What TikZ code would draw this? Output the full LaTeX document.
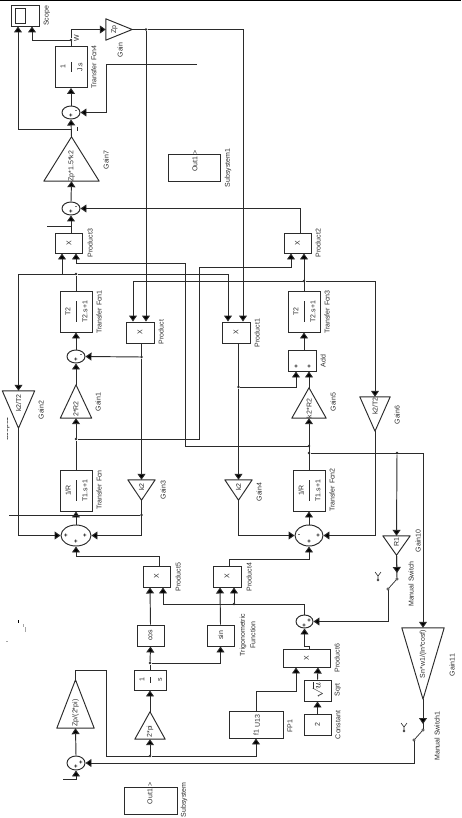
\documentclass[tikz,border=0pt]{standalone}
\usepackage{fontspec}
\usepackage{graphicx}
\setmainfont{Liberation Sans}
\usetikzlibrary{arrows.meta,shapes.geometric}
\definecolor{ink}{HTML}{2B2B2B}
\tikzset{
  blk/.style={draw=ink,line width=0.95pt},
  tribox/.style={inner sep=0pt},
  sumn/.style={blk,ellipse,inner sep=0pt},
  lab/.style={rotate=90,font=\fontsize{7}{8}\selectfont,text=ink,inner sep=0pt,align=center},
  sig/.style={draw=ink,line width=0.95pt,-{Triangle[length=6pt,width=8pt,fill=black]}},
  wire/.style={draw=ink,line width=0.95pt},
  dot/.style={circle,fill=ink,inner sep=0pt,minimum size=2.6pt},
  sgn/.style={font=\fontsize{6}{6}\selectfont\bfseries,text=black,inner sep=0pt},
  contact/.style={circle,draw=ink,fill=white,line width=0.5pt,inner sep=0pt,minimum size=2.4pt}
}
\newcommand\rblock[6]{\node[blk,inner sep=0pt,minimum width=#4pt,minimum height=#5pt,rotate=0] (#1) at (#2,#3) {\rotatebox{90}{\fontsize{7}{8}\selectfont\textcolor{ink}{#6}}};}
\newcommand\tfblock[6]{\node[blk,inner sep=0pt,minimum width=32pt,minimum height=41pt] (#1) at (#2,#3) {};
  \node[lab] (#1n) at (#2-8,#3) {#4};
  \node[lab] (#1d) at (#2+9,#3) {#5};
  \draw[wire] (#1.center) ++(0,-#6) -- ++(0,2*#6);}
\newcommand\gainup[5]{\node[tribox,minimum width=#4pt,minimum height=#5pt] (#1) at (#2,#3) {};
  \draw[blk,line join=round] (#1.south west)--(#1.south east)--(#1.north)--cycle;}
\newcommand\gaindn[5]{\node[tribox,minimum width=#4pt,minimum height=#5pt] (#1) at (#2,#3) {};
  \draw[blk,line join=round] (#1.north west)--(#1.north east)--(#1.south)--cycle;}
\newcommand\swsym[3]{
  \node[contact] (#1t) at (#2,#3) {};
  \node[contact] (#1b) at (#2-9,#3+10) {};
  \draw[draw=ink,line width=0.7pt] (#1t) -- (#1b);
  \node[contact,minimum size=2pt] (#1y) at (#2-19,#3+1) {};
  \draw[draw=ink,line width=0.6pt] (#1y) -- ++(0,-4) -- ++(-3,-4) ++(3,4) -- ++(3,-4);}
\begin{document}
\begin{tikzpicture}[x=1pt,y=-1pt]
\useasboundingbox (0,0) rectangle (461,818);
\fill[black] (0,0) rectangle (461,1.3);

% ---------- blocks ----------
\node[blk,inner sep=0pt,minimum width=28pt,minimum height=21pt] (scope) at (25,15.5) {};
\draw[blk] (15,8) rectangle (25,23);
\node[lab] (lscope) at (47,16) {Scope};

\tfblock{tf4}{71}{67}{1}{J.s}{5}
\node[lab] (ltf4) at (94,67) {Transfer Fcn4};
\node[lab] (lw) at (76.5,38) {W};

\node[tribox,minimum width=26pt,minimum height=21pt] (gz) at (119,29.5) {};
\draw[blk,line join=round] (gz.north west)--(gz.east)--(gz.south west)--cycle;
\node[lab] (gzt) at (114.5,29.5) {Zp};
\node[lab] (lgz) at (120,50) {Gain};

\node[sumn,minimum width=18pt,minimum height=13pt] (s2) at (71,112.5) {};
\node[sgn] at (71,116) {+}; \node[sgn] at (76,112) {-};

\gainup{g7}{71.5}{159}{55}{44}
\node[lab] (g7t) at (71.5,166) {Zp*1.5*k2};
\node[lab] (lg7) at (106,160) {Gain7};

\node[sumn,minimum width=18pt,minimum height=13pt] (s1) at (71,208.5) {};
\node[sgn] at (71,212) {+}; \node[sgn] at (76,208) {-};

\rblock{p3}{69}{243}{27}{20}{X}
\node[lab] (lp3) at (90,243) {Product3};
\rblock{p2}{297.5}{243}{27}{20}{X}
\node[lab] (lp2) at (318,243) {Product2};

\node[blk,inner sep=0pt,minimum width=52pt,minimum height=27pt] (sub1) at (194,167.5) {};
\node[lab] (sub1t) at (195,161) {Out1 >};
\node[lab] (lsub1) at (228,168) {Subsystem1};

\tfblock{tf1}{76}{311.5}{T2}{T2.s+1}{10.5}
\node[lab] (ltf1) at (99,312) {Transfer Fcn1};
\tfblock{tf3}{304}{311.5}{T2}{T2.s+1}{10.5}
\node[lab] (ltf3) at (327,312) {Transfer Fcn3};

\rblock{prod}{140}{332.5}{28}{21}{X}
\node[lab] (lprod) at (161,332) {Product};
\rblock{p1}{236}{332.5}{28}{21}{X}
\node[lab] (lp1) at (257,333) {Product1};

\node[sumn,minimum width=18pt,minimum height=13pt] (s3) at (76,356.5) {};
\node[sgn] at (76,360) {+}; \node[sgn] at (81,356) {-};

\node[blk,inner sep=0pt,minimum width=28pt,minimum height=21pt] (add) at (302,360.5) {};
\node[sgn] at (296,367) {+}; \node[sgn] at (309,367) {+};
\node[lab] (ladd) at (323,361) {Add};

\gainup{g1}{76}{401.5}{31}{33}
\node[lab] (g1t) at (76,409) {2*R2};
\node[lab] (lg1) at (98,402) {Gain1};
\gainup{g5}{309}{403}{34}{30}
\node[lab] (g5t) at (309,408.5) {k2*R2};
\node[lab] (lg5) at (333,402) {Gain5};

\gaindn{g2}{18.5}{409.5}{32}{37}
\node[lab] (g2t) at (18.5,403) {k2/T2};
\node[lab] (lg2) at (41,410) {Gain2};
\gaindn{g6}{375}{414}{30}{34}
\node[lab] (g6t) at (375,406) {k2/T2};
\node[lab] (lg6) at (397,415) {Gain6};

\tfblock{tf}{76}{490.5}{1/R}{T1.s+1}{10.5}
\node[lab] (ltf) at (99,490) {Transfer Fcn};
\tfblock{tf2}{309}{490.5}{1/R}{T1.s+1}{10.5}
\node[lab] (ltf2) at (332,490) {Transfer Fcn2};

\gaindn{g3}{141.5}{490}{27}{20}
\node[lab] (g3t) at (141.5,487) {k2};
\node[lab] (lg3) at (163,490) {Gain3};
\gaindn{g4}{238.5}{490}{27}{20}
\node[lab] (g4t) at (238.5,487) {k2};
\node[lab] (lg4) at (259,492) {Gain4};

\node[sumn,minimum width=30pt,minimum height=21pt] (sl) at (76,535.5) {};
\node[sgn] at (66,536) {+}; \node[sgn] at (85,536) {+}; \node[sgn] at (76,542) {+};
\node[sumn,minimum width=28pt,minimum height=21pt] (sr) at (309,535.5) {};
\node[sgn] at (299,536) {-}; \node[sgn] at (318,536) {+}; \node[sgn] at (309,542) {+};

\gaindn{g10}{396.5}{545.5}{27}{19}
\node[lab] (g10t) at (396.5,542) {R1};
\node[lab] (lg10) at (418,541) {Gain10};

\rblock{p5}{156.5}{576.5}{27}{21}{X}
\node[lab] (lp5) at (178,577) {Product5};
\rblock{p4}{227}{576.5}{28}{21}{X}
\node[lab] (lp4) at (249,577) {Product4};

\rblock{cosb}{150.5}{635.5}{27}{21}{cos}
\rblock{sinb}{220.5}{635.5}{27}{21}{sin}
\node[lab] (ltrig) at (247.5,635) {Trigonometric\\[2.5pt]Function};

\node[sumn,minimum width=17pt,minimum height=13pt] (sm) at (304.5,621.5) {};
\node[sgn] at (309,621) {+}; \node[sgn] at (304,626) {+};

\rblock{p6}{306.5}{658}{47}{18}{X}
\node[lab] (lp6) at (337,658) {Product6};
\rblock{sq}{317.5}{690.5}{27}{21}{\scalebox{1.5}{$\sqrt{u}$}}
\node[lab] (lsq) at (338,690) {Sqrt};
\rblock{cn}{317.5}{724.5}{27}{21}{2}
\node[lab] (lcn) at (338,725) {Constant};

\node[blk,inner sep=0pt,minimum width=54pt,minimum height=27pt] (fp) at (256,724.5) {};
\node[lab] (fpu) at (257.5,721) {U13};
\node[lab] (fpf) at (256,733) {f1};
\node[lab] (lfp) at (290,726) {FP1};

\node[blk,inner sep=0pt,minimum width=32pt,minimum height=20pt] (int) at (150,680) {};
\node[lab] (intn) at (142,680) {1};
\node[lab] (intd) at (160,680) {s};
\draw[wire] (int.center) ++(0,-3) -- ++(0,6);

\gainup{gpi}{150}{725.5}{30}{27}
\node[lab] (gpit) at (150,731.5) {2*pi};
\gainup{gz2}{75.5}{704}{37}{48}
\node[lab] (gz2t) at (75.5,713) {Zp/(2*pi)};

\node[sumn,minimum width=18pt,minimum height=14pt] (sb) at (76,763) {};
\node[sgn] at (76,767) {+}; \node[sgn] at (81,763) {+};

\gaindn{g11}{423}{663.5}{42}{71}
\node[lab] (g11t) at (423,654) {Sn*w1/(In*cosf)};
\node[lab] (lg11) at (452,665) {Gain11};

\node[blk,inner sep=0pt,minimum width=53pt,minimum height=27pt] (sub) at (150.5,800.5) {};
\node[lab] (subt) at (150,793.5) {Out1 >};
\node[lab] (lsub) at (184,800) {Subsystem};

\swsym{sw}{397}{579}
\node[lab] (lsw) at (411,584) {Manual Switch};
\swsym{swb}{423}{730}
\node[lab] (lswb) at (437,736) {Manual Switch1};

% clipped remnant beside Gain2, and stray specks at the left
\begin{scope}
\clip (7.2,415) rectangle (10,442);
\node[lab,text=black] (stray) at (6.5,429) {Scope1};
\end{scope}
\fill[black] (17.5,619.5) rectangle (18.7,622.5);
\fill[gray!70] (22.5,623.5) rectangle (24,626.5);
\fill[gray!70] (24.5,627) rectangle (26,632);
\fill[gray!70] (6,640.5) rectangle (8,642);

% ---------- dots ----------
\node[dot] (d1) at (146,29.5) {};
\node[dot] (d2) at (71,40) {};
\node[dot] (d3) at (76,274) {};
\node[dot] (d4) at (141.5,357) {};
\node[dot] (d5) at (76,439) {};
\node[dot] (d6) at (141.5,515) {};
\node[dot] (d7) at (304,281) {};
\node[dot] (d8) at (238.5,387) {};
\node[dot] (d9) at (309,446) {};
\node[dot] (d10) at (309,453) {};
\node[dot] (d11) at (397,453) {};
\node[dot] (d12) at (150,663) {};
\node[dot] (d13) at (150,756) {};
\node[dot] (d14) at (234,604) {};

\coordinate (e1) at (47,226);
\coordinate (e2) at (197,64);
\coordinate (e3) at (9,515);
\coordinate (e4) at (63,779);

% ---------- connectors ----------
\draw[sig] (d2) -| ([xshift=7pt]scope.south);
\draw[wire] (tf4.north) -- (d2);
\draw[sig] (d2) |- (gz.west);
\draw[wire] (gz.east) -- (d1);
\draw[sig] (d1) -- ([xshift=6pt]prod.north);
\draw[sig] (d1) -| ([xshift=7pt]p1.north);
\draw[sig] (s2.north) -- (tf4.south);
\draw[sig] (e2) -| (106,112.5) -- (s2.east);
\draw[sig] (g7.north) -- (s2.south);
\draw[sig] (71,129) -| ([xshift=-7pt]scope.south);
\draw[wire,line width=0.6pt] (77,127) -- (77,131);
\draw[sig] (s1.north) -- (g7.south);
\draw[sig] (p2.north -| 300,0) |- (s1.east);
\draw[sig] ([xshift=2pt]p3.north) -- (s1.south);
\draw[wire,line width=0.7pt] (e1) -- (71,226);
\draw[wire] (tf1.north) -- (d3);
\draw[sig] (d3) -| ([xshift=-7pt]p3.south);
\draw[sig] (d3) -| (g2.north);
\draw[sig] (d3) -| ([xshift=-8pt]p1.north);
\draw[sig] (d9) -| (185,263) -| ([xshift=7pt]p3.south);
\draw[sig] (d5) -| (199,267) -| ([xshift=-6.5pt]p2.south);
\draw[sig] (tf3.north) -- ([xshift=6.5pt]p2.south);
\draw[sig] (d7) -| ([xshift=-7pt]prod.north);
\draw[sig] (d7) -| (g6.north);
\draw[sig] (s3.north) -- (tf1.south);
\draw[sig] (g1.north) -- (s3.south);
\draw[sig] (d5) -- (g1.south);
\draw[wire] (tf.north) -- (d5);
\draw[sig] (d4) -- (s3.east);
\draw[wire] ([xshift=1.5pt]prod.south) -- (d4);
\draw[sig] (d4) -- (g3.north);
\draw[sig] (g3.south) |- (sl.east);
\draw[sig] (g2.south) |- (sl.west);
\draw[sig] (sl.north) -- (tf.south);
\draw[wire] (e3) -- (d6);
\draw[sig] (add.north -| tf3.south) -- (tf3.south);
\draw[sig] (g5.north) -- (add.south -| g5.north);
\draw[sig] (d8) -| (add.south -| 296,0);
\draw[wire] ([xshift=2.5pt]p1.south) -- (d8);
\draw[sig] (d8) -- (g4.north);
\draw[sig] (g4.south) |- (sr.west);
\draw[sig] (g6.south) |- (sr.east);
\draw[sig] (sr.north) -- (tf2.south);
\draw[sig] (tf2.north) -- (g5.south);
\draw[sig] (d10) -| (g11.north);
\draw[sig] (d11) -- (g10.north);
\draw[sig] ([xshift=2.5pt]p5.north) |- (76,556) -- (sl.south);
\draw[sig] ([xshift=2pt]p4.north) |- (309,559) -- (sr.south);
\draw[sig] (sm.north) -- (304.5,604) -| ([xshift=6.5pt]p5.south);
\draw[sig] (d14) -- ([xshift=7pt]p4.south);
\draw[sig] (cosb.north) -- ([xshift=-6.5pt]p5.south);
\draw[sig] (sinb.north) -- ([xshift=-7pt]p4.south);
\draw[sig] (d12) -- (cosb.south);
\draw[wire] (int.north) -- (d12);
\draw[sig] (d12) -| (sinb.south);
\draw[sig] (gpi.north) -- (int.south);
\draw[sig] (d13) -- (gpi.south);
\draw[wire] (gz2.north) |- (106,670) -- (106,756) -- (d13);
\draw[sig] (d13) -| (fp.south);
\draw[sig] (fp.north) |- ([xshift=-10.5pt]p6.south |- 0,691) -- ([xshift=-10.5pt]p6.south);
\draw[sig] (sq.north) -- ([xshift=11.5pt]p6.south);
\draw[sig] (cn.north) -- (sq.south);
\draw[sig] ([xshift=2.5pt]p6.north) |- (304.5,646) -- (sm.south);
\draw[wire] (g10.south) -- (swt);
\draw[sig] (g10.south) -- ([yshift=6pt]swt.center);
\draw[sig] (swb) |- (sm.east);
\draw[wire] (g11.south) -- (swbt);
\draw[sig] (g11.south) -- ([yshift=6pt]swbt.center);
\draw[sig] (swbb) |- (sb.east);
\draw[sig] (sb.north) -- (gz2.south);
\draw[sig] (e4) -| (sb.south);
\end{tikzpicture}
\end{document}
